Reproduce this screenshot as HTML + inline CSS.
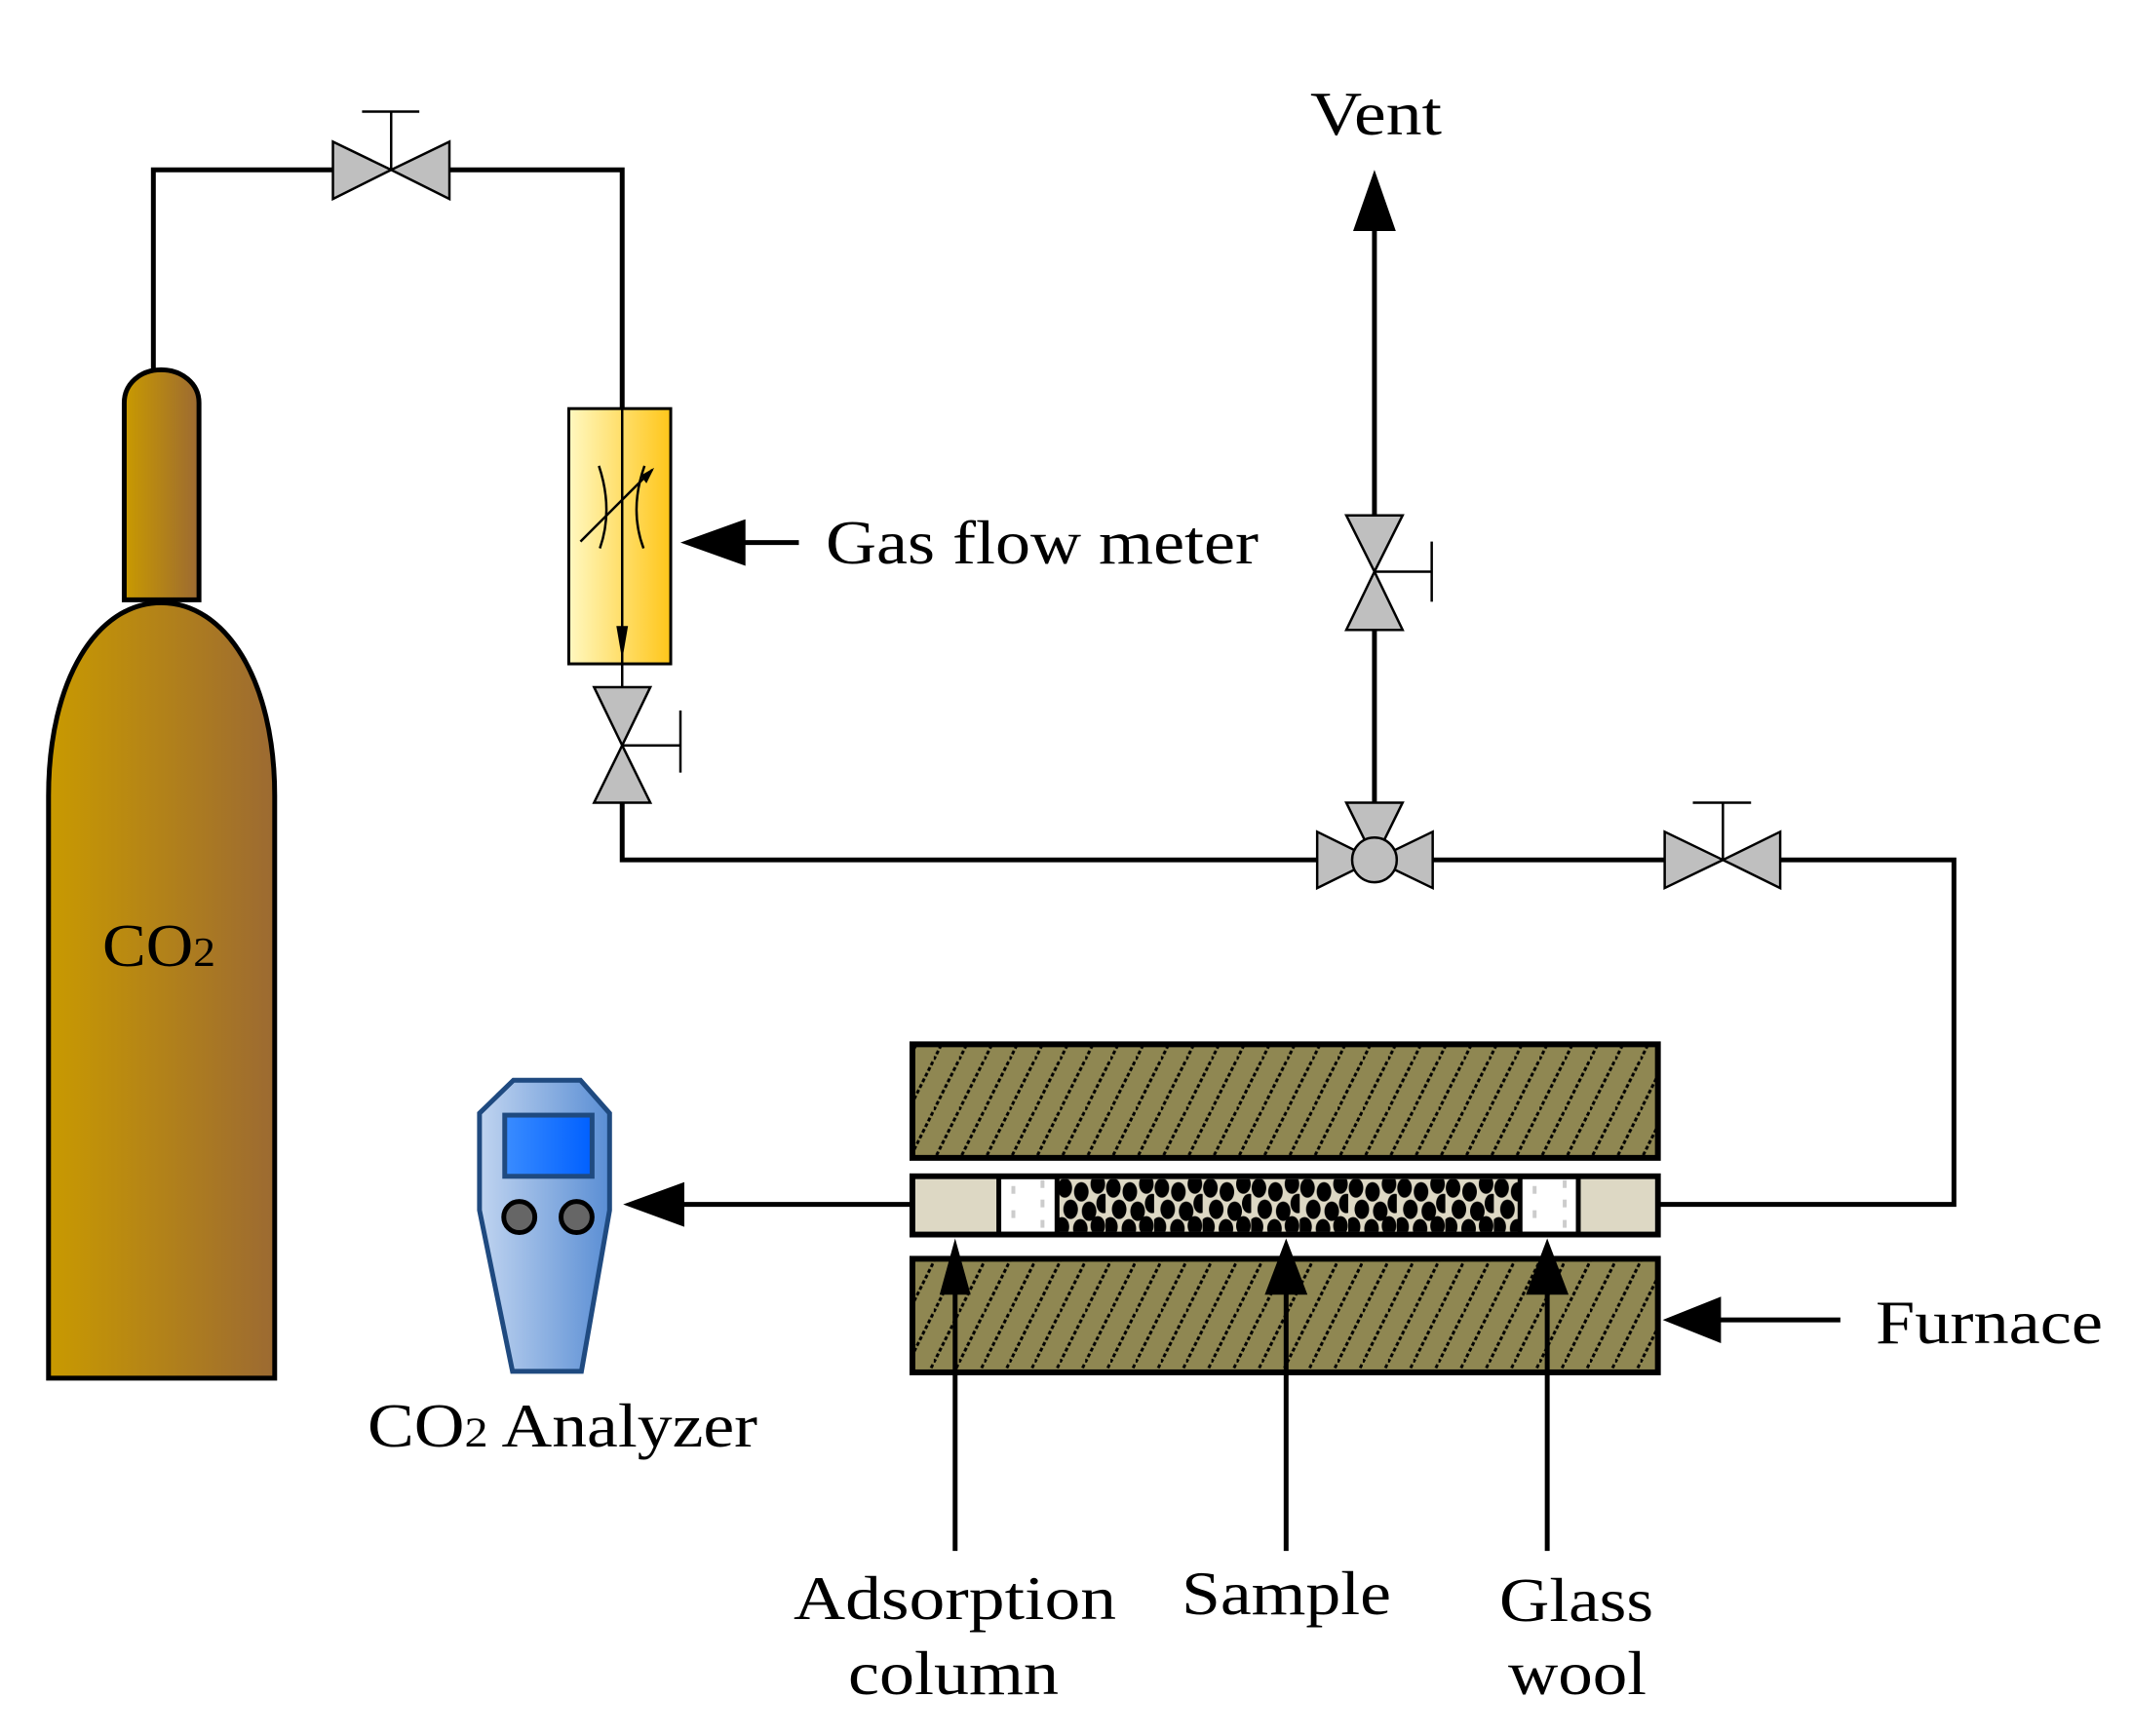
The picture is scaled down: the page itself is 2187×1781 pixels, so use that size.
<!DOCTYPE html>
<html><head><meta charset="utf-8"><style>
html,body{margin:0;padding:0;background:#fff;}
svg{display:block}
text{font-family:"Liberation Serif",serif;fill:#000}
</style></head><body>
<svg width="2187" height="1781" viewBox="0 0 2187 1781" xmlns="http://www.w3.org/2000/svg">
<defs>
<linearGradient id="bottle" x1="0" x2="1" y1="0" y2="0"><stop offset="0" stop-color="#c99a00"/><stop offset="1" stop-color="#9c6a32"/></linearGradient>
<linearGradient id="meter" x1="0" x2="1" y1="0" y2="0"><stop offset="0" stop-color="#fff8c0"/><stop offset="1" stop-color="#ffc61a"/></linearGradient>
<linearGradient id="ana" x1="0" x2="1" y1="0" y2="0"><stop offset="0" stop-color="#c0d4f0"/><stop offset="1" stop-color="#5a8ed4"/></linearGradient>
<linearGradient id="scr" x1="0" x2="1" y1="0" y2="0"><stop offset="0" stop-color="#3a8cff"/><stop offset="1" stop-color="#0060ff"/></linearGradient>
<pattern id="hatch" width="26" height="52" patternUnits="userSpaceOnUse">
<rect width="26" height="52" fill="#8f8752"/>
<line x1="0" y1="52" x2="26" y2="0" stroke="#000" stroke-width="3" stroke-dasharray="4 2.5"/>
</pattern>
<pattern id="dots" width="50" height="60" patternUnits="userSpaceOnUse" x="1089" y="1214">
<rect width="50" height="60" fill="#ddd8c4"/>
<ellipse cx="8" cy="10" rx="7.5" ry="10" fill="#000"/>
<ellipse cx="25" cy="14" rx="7.5" ry="10" fill="#000"/>
<ellipse cx="42" cy="6" rx="7.5" ry="10" fill="#000"/>
<ellipse cx="14" cy="32" rx="7.5" ry="10" fill="#000"/>
<ellipse cx="33" cy="34" rx="7.5" ry="10" fill="#000"/>
<ellipse cx="48" cy="26" rx="7.5" ry="10" fill="#000"/>
<ellipse cx="5" cy="50" rx="7.5" ry="10" fill="#000"/>
<ellipse cx="24" cy="52" rx="7.5" ry="10" fill="#000"/>
<ellipse cx="42" cy="49" rx="7.5" ry="10" fill="#000"/>
</pattern>
</defs>

<g transform="scale(0.9957)">
<!-- pipes -->
<g fill="none" stroke="#000" stroke-width="5">
<polyline points="158,384 158,175 343,175"/>
<polyline points="463,175 641,175 641,421"/>
<polyline points="641,827 641,886 1357,886"/>
<line x1="1476" y1="886" x2="1715" y2="886"/>
<polyline points="1834,886 2013,886 2013,1241 1710,1241"/>
<line x1="1416" y1="827" x2="1416" y2="649"/>
<line x1="1416" y1="531" x2="1416" y2="236"/>
<line x1="938" y1="1241" x2="700" y2="1241"/>
<line x1="823" y1="559" x2="760" y2="559"/>
<line x1="1896" y1="1360" x2="1770" y2="1360"/>
</g>
<g fill="#000">
<polygon points="1416,175 1394,238 1438,238"/>
<polygon points="701,559 768,535 768,583"/>
<polygon points="642,1241 705,1218 705,1264"/>
<polygon points="1713,1360 1773,1336 1773,1384"/>
</g>

<!-- bottle -->
<g stroke="#000" stroke-width="5" fill="url(#bottle)">
<path d="M50,1420 L50,820 C50,700 100,621 166,621 C232,621 283,700 283,820 L283,1420 Z"/>
<path d="M128,618 L128,415 C128,395 145,381 166,381 C187,381 205,395 205,415 L205,618 Z"/>
</g>

<!-- top valve -->
<g stroke="#000" stroke-width="2.5" fill="#bfbfbf">
<polygon points="343,146 343,205 403,175"/>
<polygon points="463,146 463,205 403,175"/>
<line x1="403" y1="175" x2="403" y2="115"/>
<line x1="373" y1="115" x2="432" y2="115"/>
</g>

<!-- meter -->
<rect x="586" y="421" width="105" height="263" fill="url(#meter)" stroke="#000" stroke-width="3"/>
<g stroke="#000" stroke-width="2.5" fill="none">
<line x1="641" y1="421" x2="641" y2="708"/>
<path d="M617,480 Q632,525 618,565"/>
<path d="M664,480 Q648,525 663,565"/>
<line x1="598" y1="558" x2="672" y2="484"/>
</g>
<polygon points="674,482 660,490 666,498" fill="#000"/>
<polygon points="641,680 635,645 647,645" fill="#000"/>

<!-- valve below meter -->
<g stroke="#000" stroke-width="2.5" fill="#bfbfbf">
<polygon points="612,708 670,708 641,768"/>
<polygon points="612,827 670,827 641,768"/>
<line x1="641" y1="768" x2="701" y2="768"/>
<line x1="701" y1="732" x2="701" y2="796"/>
</g>

<!-- vent valve -->
<g stroke="#000" stroke-width="2.5" fill="#bfbfbf">
<polygon points="1387,531 1445,531 1416,589"/>
<polygon points="1387,649 1445,649 1416,589"/>
<line x1="1416" y1="589" x2="1475" y2="589"/>
<line x1="1475" y1="558" x2="1475" y2="620"/>
</g>

<!-- three-way valve -->
<g stroke="#000" stroke-width="2.5" fill="#bfbfbf">
<polygon points="1357,857 1357,915 1416,886"/>
<polygon points="1476,857 1476,915 1416,886"/>
<polygon points="1387,827 1445,827 1416,886"/>
<circle cx="1416" cy="886" r="23"/>
</g>

<!-- right valve -->
<g stroke="#000" stroke-width="2.5" fill="#bfbfbf">
<polygon points="1715,857 1715,915 1775,886"/>
<polygon points="1834,857 1834,915 1775,886"/>
<line x1="1775" y1="886" x2="1775" y2="827"/>
<line x1="1744" y1="827" x2="1804" y2="827"/>
</g>

<!-- furnace -->
<rect x="940" y="1076" width="768" height="117" fill="url(#hatch)" stroke="#000" stroke-width="6"/>
<rect x="940" y="1297" width="768" height="117" fill="url(#hatch)" stroke="#000" stroke-width="6"/>

<!-- column -->
<rect x="940" y="1212" width="768" height="60" fill="#fff" stroke="#000" stroke-width="6"/>
<rect x="943" y="1215" width="86" height="54" fill="#ddd8c4"/>
<rect x="1626" y="1215" width="79" height="54" fill="#ddd8c4"/>
<rect x="1089" y="1215" width="477" height="54" fill="url(#dots)"/>
<g fill="#ccc">
<rect x="1042" y="1222" width="4" height="8"/><rect x="1042" y="1247" width="4" height="8"/>
<rect x="1072" y="1216" width="4" height="8"/><rect x="1072" y="1236" width="4" height="8"/><rect x="1072" y="1257" width="4" height="8"/>
<rect x="1579" y="1222" width="4" height="8"/><rect x="1579" y="1247" width="4" height="8"/>
<rect x="1610" y="1216" width="4" height="8"/><rect x="1610" y="1236" width="4" height="8"/><rect x="1610" y="1257" width="4" height="8"/>
</g>
<g stroke="#000" stroke-width="5">
<line x1="1029" y1="1212" x2="1029" y2="1272"/>
<line x1="1089" y1="1212" x2="1089" y2="1272"/>
<line x1="1566" y1="1212" x2="1566" y2="1272"/>
<line x1="1626" y1="1212" x2="1626" y2="1272"/>
<line x1="984" y1="1598" x2="984" y2="1330"/>
<line x1="1325" y1="1598" x2="1325" y2="1330"/>
<line x1="1594" y1="1598" x2="1594" y2="1330"/>
</g>
<g fill="#000">
<polygon points="984,1276 968,1334 1000,1334"/>
<polygon points="1325,1276 1303,1334 1347,1334"/>
<polygon points="1594,1276 1572,1334 1616,1334"/>
</g>

<!-- analyzer -->
<path d="M529,1113 L598,1113 L628,1147 L628,1247 L599,1413 L528,1413 L494,1247 L494,1147 Z" fill="url(#ana)" stroke="#1f4a80" stroke-width="5"/>
<rect x="520" y="1149" width="90" height="63" fill="url(#scr)" stroke="#1f4a80" stroke-width="5"/>
<circle cx="535" cy="1254" r="16" fill="#666" stroke="#000" stroke-width="5"/>
<circle cx="594" cy="1254" r="16" fill="#666" stroke="#000" stroke-width="5"/>
</g>

<!-- labels -->
<text x="105" y="991" font-size="62" textLength="116" lengthAdjust="spacingAndGlyphs">CO<tspan font-size="42">2</tspan></text>
<text x="847" y="578" font-size="64" textLength="444" lengthAdjust="spacingAndGlyphs">Gas flow meter</text>
<text x="1344" y="138" font-size="64" textLength="135" lengthAdjust="spacingAndGlyphs">Vent</text>
<text x="1924" y="1378" font-size="64" textLength="233" lengthAdjust="spacingAndGlyphs">Furnace</text>
<text x="377" y="1484" font-size="64" textLength="400" lengthAdjust="spacingAndGlyphs">CO<tspan font-size="43">2</tspan> Analyzer</text>
<text x="814" y="1661" font-size="64" textLength="331" lengthAdjust="spacingAndGlyphs">Adsorption</text>
<text x="870" y="1738" font-size="64" textLength="216" lengthAdjust="spacingAndGlyphs">column</text>
<text x="1212" y="1656" font-size="64" textLength="215" lengthAdjust="spacingAndGlyphs">Sample</text>
<text x="1538" y="1663" font-size="64" textLength="158" lengthAdjust="spacingAndGlyphs">Glass</text>
<text x="1547" y="1738" font-size="64" textLength="142" lengthAdjust="spacingAndGlyphs">wool</text>
</svg>
</body></html>
